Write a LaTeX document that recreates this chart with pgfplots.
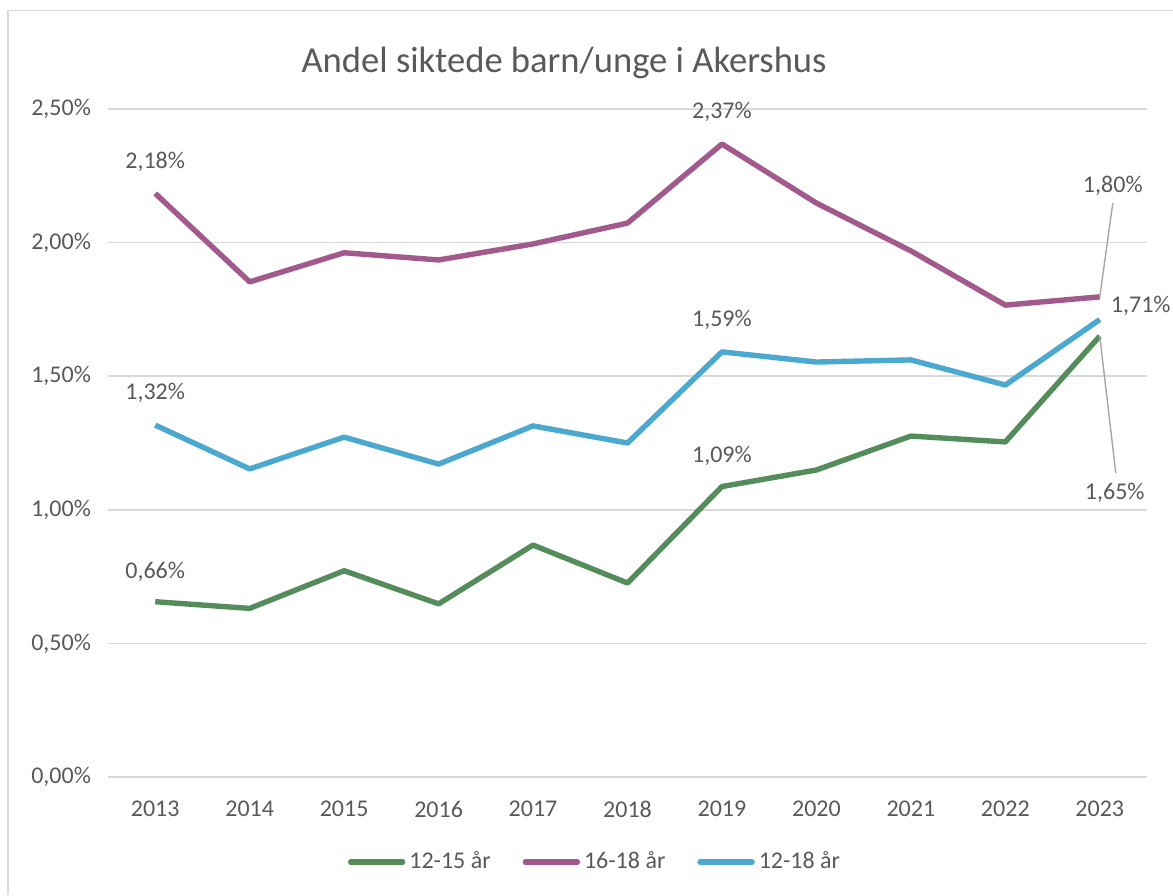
\documentclass[border=0pt]{standalone}
\usepackage{pgfplots}
\pgfplotsset{compat=1.18}
\usepackage{fontspec}
\setmainfont{Carlito}
\definecolor{cgreen}{RGB}{84,140,92}
\definecolor{cpurple}{RGB}{162,90,140}
\definecolor{cblue}{RGB}{75,168,206}
\definecolor{ctext}{RGB}{89,89,89}
\definecolor{cgrid}{RGB}{217,217,217}
\definecolor{clead}{RGB}{166,166,166}
\begin{document}
\begin{tikzpicture}
\path[use as bounding box] (0,0) rectangle (586.5pt,447.5pt);
\draw[cgrid, line width=0.8pt] (4pt,0) -- (4pt,442.3pt) -- (586.5pt,442.3pt);
\node[text=ctext, font=\fontsize{18.3pt}{21pt}\selectfont] at (282pt,416pt) {Andel siktede barn/unge i Akershus};
\begin{axis}[
  at={(54pt,59pt)}, anchor=south west,
  scale only axis, width=519.5pt, height=334pt,
  xmin=-0.5, xmax=10.5, ymin=0, ymax=2.5,
  clip=false,
  axis line style={draw=none},
  axis x line*=bottom,
  x axis line style={draw=cgrid, line width=0.8pt},
  tick style={draw=none},
  xtick={0,...,10},
  xticklabels={2013,2014,2015,2016,2017,2018,2019,2020,2021,2022,2023},
  ytick={0,0.5,1,1.5,2,2.5},
  yticklabels={{0,00\%},{0,50\%},{1,00\%},{1,50\%},{2,00\%},{2,50\%}},
  ymajorgrids, grid style={cgrid, line width=0.8pt},
  ticklabel style={text=ctext, font=\fontsize{12pt}{14pt}\selectfont},
  xticklabel style={yshift=-8.5pt},
  yticklabel style={xshift=-5pt},
  legend style={at={(0.4697,-0.127)}, anchor=center, draw=none, fill=none,
    legend columns=3, font=\fontsize{12pt}{14pt}\selectfont, text=ctext,
    /tikz/every even column/.append style={column sep=14pt}},
  legend image code/.code={\draw[#1, line width=2.7pt, line cap=round] (0pt,0pt) -- (26pt,0pt);},
  every axis plot/.append style={line width=2.7pt, line join=round, mark=none},
]
\addplot[cgreen] coordinates {(0,0.656) (1,0.631) (2,0.772) (3,0.648) (4,0.868) (5,0.726) (6,1.087) (7,1.149) (8,1.276) (9,1.254) (10,1.650)};
\addlegendentry{12-15 år}
\addplot[cpurple] coordinates {(0,2.184) (1,1.853) (2,1.962) (3,1.935) (4,1.995) (5,2.073) (6,2.369) (7,2.148) (8,1.969) (9,1.766) (10,1.797)};
\addlegendentry{16-18 år}
\addplot[cblue] coordinates {(0,1.317) (1,1.153) (2,1.272) (3,1.171) (4,1.314) (5,1.250) (6,1.591) (7,1.553) (8,1.561) (9,1.467) (10,1.712)};
\addlegendentry{12-18 år}
\begin{scope}[every node/.style={text=ctext, font=\fontsize{12pt}{14pt}\selectfont}]
\node at (axis cs:0,2.304) {2,18\%};
\node at (axis cs:0,1.437) {1,32\%};
\node at (axis cs:0,0.767) {0,66\%};
\node at (axis cs:6,2.488) {2,37\%};
\node at (axis cs:6,1.71) {1,59\%};
\node at (axis cs:6,1.201) {1,09\%};
\node at (axis cs:10.138,2.212) {1,80\%};
\node at (axis cs:10.434,1.763) {1,71\%};
\node at (axis cs:10.159,1.063) {1,65\%};
\end{scope}
\draw[clead, line width=0.7pt] (axis cs:10,1.797) -- (axis cs:10.138,2.148);
\draw[clead, line width=0.7pt] (axis cs:10,1.650) -- (axis cs:10.169,1.138);
\end{axis}
\end{tikzpicture}
\end{document}
